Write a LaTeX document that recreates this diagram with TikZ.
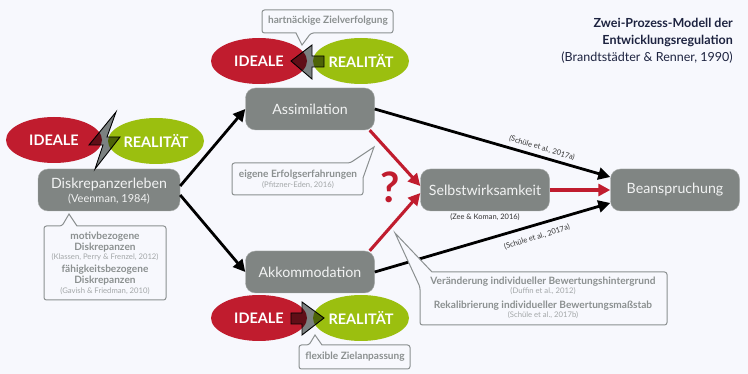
\documentclass[tikz,border=0pt]{standalone}
\usepackage{fontspec}
\setmainfont{Lato}
\usepackage{xcolor}
\usetikzlibrary{shapes.geometric,arrows.meta}
\definecolor{pagebg}{HTML}{F7F8FD}
\definecolor{idealred}{HTML}{C01C2E}
\definecolor{realgreen}{HTML}{9BBF0F}
\definecolor{boxgray}{HTML}{808583}
\definecolor{notegray}{HTML}{8B9090}
\definecolor{citegray}{HTML}{A3A7A8}
\definecolor{titleblue}{HTML}{1D2340}
\tikzset{
  procbox/.style={draw=boxgray!70!white,fill=boxgray,rounded corners=10pt,text=white!90!boxgray,minimum width=129pt,minimum height=42pt,font=\fontsize{14.2}{14.2}\selectfont,inner sep=0pt},
  oval/.style={ellipse,text=white,minimum width=96pt,minimum height=46pt,inner sep=0pt,font=\fontsize{14.5}{14.5}\selectfont\bfseries},
  conflict/.style={draw=black,line width=0.9pt,line join=miter,fill=boxgray,blend mode=multiply},
  blackarrow/.style={black,line width=2.8pt,-{Triangle[length=12pt,width=12pt]}},
  redarrow/.style={idealred,line width=3.1pt,-{Triangle[length=12pt,width=12pt]}},
  notebox/.style={draw=notegray,fill=pagebg,line width=1pt,rounded corners=2.5pt},
  notemain/.style={text=notegray,font=\fontsize{10.1}{10.1}\selectfont\bfseries,inner sep=0pt},
  notecite/.style={text=citegray,font=\fontsize{7.7}{7.7}\selectfont,inner sep=0pt},
  citesmall/.style={text=black!80,font=\fontsize{7.5}{7.5}\selectfont,inner sep=0pt}
}
\begin{document}
\begin{tikzpicture}[x=1pt,y=-1pt]
\useasboundingbox (0,0) rectangle (748,374);
\fill[white] (0,0) rectangle (748,374);
\fill[pagebg,rounded corners=12pt] (-20,-20) -- (748,-20) -- (748,400) -- (-20,400) -- cycle;
%boxes
\node[procbox,minimum width=142pt] (disk) at (109,190) {};
\node[text=white!90!boxgray,font=\fontsize{14.2}{14.2}\selectfont,inner sep=0pt] (disktext) at (109,184) {Diskrepanzerleben};
\node[text=white!90!boxgray,font=\fontsize{11}{11}\selectfont,inner sep=0pt] (diskcite) at (109,199) {(Veenman, 1984)};
\node[procbox] (assim) at (310,109) {Assimilation};
\node[procbox] (akko) at (310,272) {Akkommodation};
\node[procbox] (selbst) at (485,190) {Selbstwirksamkeit};
\node[procbox] (bean) at (675,190) {Beanspruchung};
%arrows
\draw[blackarrow] ([yshift=4pt]disk.east) -- (assim.west);
\draw[blackarrow] ([yshift=-5pt]disk.east) -- (akko.west);
\draw[blackarrow] (assim.east) -- ([yshift=13pt]bean.west);
\draw[blackarrow] (akko.east) -- ([yshift=-13pt]bean.west);
\draw[redarrow] ([xshift=-5pt]assim.south east) -- ([yshift=4pt]selbst.west);
\draw[redarrow] ([xshift=-5pt]akko.north east) -- ([yshift=-3pt]selbst.west);
\draw[redarrow] (selbst.east) -- (bean.west);
\node[text=idealred,font=\fontsize{42}{42}\selectfont\bfseries,inner sep=0pt] (frage) at (390,187) {?};
%ovals
\foreach \n/\y in {top/61,bot/318} {
  \node[oval,fill=idealred] (ideal\n) at (259,\y) {IDEALE};
  \node[oval,fill=realgreen] (real\n) at (361,\y) {REALITÄT};
}
\node[oval,fill=idealred] (idealleft) at (54,140) {IDEALE};
\node[oval,fill=realgreen] (realleft) at (156,141) {REALITÄT};
\draw[conflict] (291,61) -- (312,45) -- (312,56) -- (324,56) -- (324,67) -- (312,67) -- (312,79) -- cycle;
\draw[conflict] (324,318) -- (302,302) -- (302,313) -- (291,313) -- (291,324) -- (302,324) -- (302,335) -- cycle;
\draw[conflict] (116,112) -- (89,145) -- (103,145) -- (95,169) -- (120,137) -- (107,137) -- cycle;
%notes
\draw[notebox] (280,10) -- (393,10) -- (393,33) -- (311,33) [sharp corners] -- (302,45) -- (296,33) [rounded corners=2.5pt] -- (262,33) -- (262,10) -- cycle;
\node[notemain] (notetop) at (328,21) {hartnäckige Zielverfolgung};
\draw[notebox] (350,345) -- (410,345) -- (410,369) -- (299,369) -- (299,345) -- (309,345) [sharp corners] -- (315,335) -- (322,345) [rounded corners=2.5pt] -- cycle;
\node[notemain] (notebot) at (355,357) {flexible Zielanpassung};
\draw[notebox] (120,226) -- (166,226) -- (166,300) -- (44,300) -- (44,226) -- (62,226) [sharp corners] -- (69,214) -- (77,226) [rounded corners=2.5pt] -- cycle;
\node[notemain] (motiv) at (105,237) {motivbezogene};
\node[notemain] (motivb) at (105,248) {Diskrepanzen};
\node[notecite] (klassen) at (105,257) {(Klassen, Perry \& Frenzel, 2012)};
\node[notemain] (faehig) at (105,270) {fähigkeitsbezogene};
\node[notemain] (faehigb) at (105,281) {Diskrepanzen};
\node[notecite] (gavish) at (105,291) {(Gavish \& Friedman, 2010)};
\draw[notebox] (300,163) -- (350,163) [sharp corners] -- (374,147) -- (363,178) [rounded corners=2.5pt] -- (363,195) -- (232,195) -- (232,163) -- cycle;
\node[notemain] (erfolg) at (298,175) {eigene Erfolgserfahrungen};
\node[notecite] (pfitzner) at (298,185) {(Pfitzner-Eden, 2016)};
\draw[notebox] (500,272) -- (667,272) -- (667,325) -- (420,325) -- (420,287) [sharp corners] -- (395,233) -- (432,272) [rounded corners=2.5pt] -- cycle;
\node[notemain] (veraend) at (543,282) {Veränderung individueller Bewertungshintergrund};
\node[notecite] (duffin) at (543,291) {(Duffin et al., 2012)};
\node[notemain] (rekal) at (543,306) {Rekalibrierung individueller Bewertungsmaßstab};
\node[notecite] (schuleb) at (543,315) {(Schüle et al., 2017b)};
%citations
\node[citesmall,rotate=-17] (schuleup) at (542,148) {(Schüle et al., 2017a)};
\node[citesmall,rotate=17] (schuledown) at (537,237) {(Schüle et al., 2017a)};
\node[citesmall] (zee) at (485,217) {(Zee \& Koman, 2016)};
%title
\node[anchor=east,text=titleblue,font=\fontsize{12.5}{12.5}\selectfont\bfseries,inner sep=0pt] (titlea) at (733,23) {Zwei-Prozess-Modell der};
\node[anchor=east,text=titleblue,font=\fontsize{12.5}{12.5}\selectfont\bfseries,inner sep=0pt] (titleb) at (733,41) {Entwicklungsregulation};
\node[anchor=east,text=titleblue,font=\fontsize{12.5}{12.5}\selectfont,inner sep=0pt] (titlec) at (733,58) {(Brandtstädter \& Renner, 1990)};
\end{tikzpicture}
\end{document}
